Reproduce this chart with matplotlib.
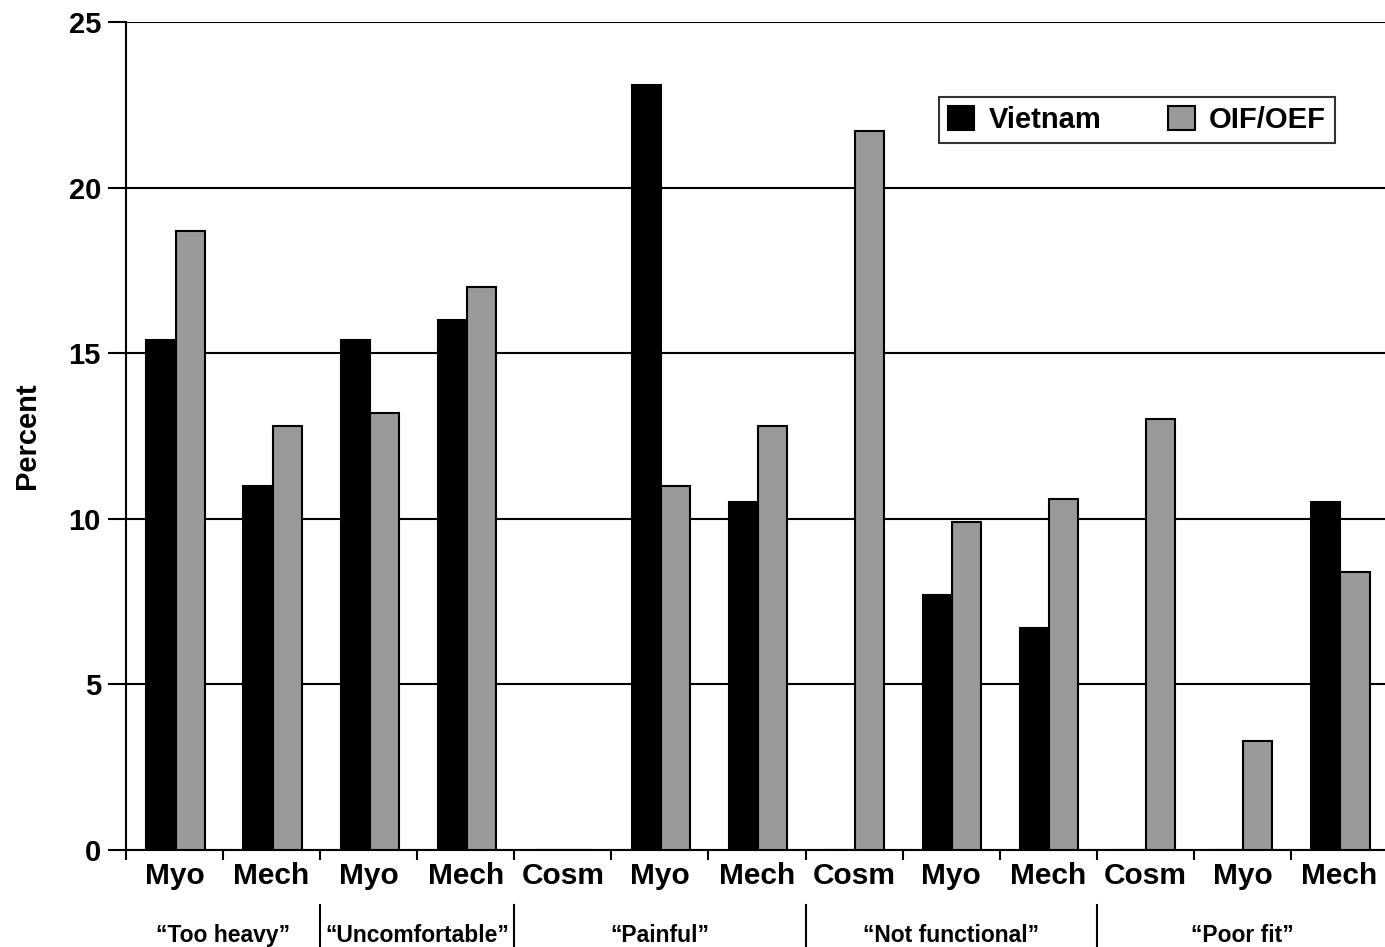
import matplotlib.pyplot as plt
import matplotlib.transforms as mtransforms
import numpy as np

plt.rcParams['font.family'] = ['Liberation Sans', 'DejaVu Sans']
plt.rcParams['font.weight'] = 'bold'

# data
categories = ['Myo', 'Mech', 'Myo', 'Mech', 'Cosm', 'Myo', 'Mech',
              'Cosm', 'Myo', 'Mech', 'Cosm', 'Myo', 'Mech']
vietnam = [15.4, 11.0, 15.4, 16.0, 0, 23.1, 10.5, 0, 7.7, 6.7, 0, 0, 10.5]
oif_oef = [18.7, 12.8, 13.2, 17.0, 0, 11.0, 12.8, 21.7, 9.9, 10.6, 13.0, 3.3, 8.4]
groups = ['\u201cToo heavy\u201d', '\u201cUncomfortable\u201d', '\u201cPainful\u201d',
          '\u201cNot functional\u201d', '\u201cPoor fit\u201d']
group_spans = [(0, 1), (2, 3), (4, 6), (7, 9), (10, 12)]

fig = plt.figure(figsize=(13.85, 9.47), dpi=100)
ax = fig.add_axes([126 / 1385, 1 - 850 / 947, (1388 - 126) / 1385, (850 - 22) / 947])

x = np.arange(len(categories))
w = 0.3
ax.bar(x - w / 2 + 0.01, vietnam, width=w, color='black', edgecolor='black', linewidth=1.5,
       label='Vietnam', zorder=3)
ax.bar(x + w / 2 + 0.01, oif_oef, width=w, color='#999999', edgecolor='black', linewidth=1.5,
       label='OIF/OEF', zorder=3)

ax.set_xlim(-0.5, len(categories) - 0.5)
ax.set_ylim(0, 25)
ax.set_yticks([0, 5, 10, 15, 20, 25])
ax.yaxis.grid(True, color='black', linewidth=1.5)
ax.set_axisbelow(True)

for s in ['top', 'right']:
    ax.spines[s].set_visible(False)
ax.spines['left'].set_linewidth(1.5)
ax.spines['bottom'].set_linewidth(1.5)

ax.set_xticks(x)
ax.set_xticklabels(categories, fontsize=21.5, fontweight='bold')
ax.set_xticks(np.arange(-0.5, len(categories)), minor=True)
ax.tick_params(axis='x', which='major', length=0, pad=9)
ax.tick_params(axis='x', which='minor', length=7, width=1.5, direction='out')
ax.tick_params(axis='y', length=13, width=1.5, direction='out', labelsize=21, pad=5)
for lab in ax.get_yticklabels():
    lab.set_fontweight('bold')

ax.set_ylabel('Percent', fontsize=21, fontweight='bold', labelpad=20)

# group labels under the categories
trans = mtransforms.blended_transform_factory(ax.transData, ax.transAxes)
for name, (a, b) in zip(groups, group_spans):
    ax.text((a + b) / 2, -0.103, name, transform=trans, ha='center', va='center',
            fontsize=16.5, fontweight='bold')
for a, b in group_spans[:-1]:
    ax.plot([b + 0.5, b + 0.5], [-0.067, -0.12], transform=trans, color='black',
            linewidth=1.5, clip_on=False)

leg = ax.legend(loc='upper right', bbox_to_anchor=(0.958, 0.909), ncol=2, fontsize=21,
                frameon=True, fancybox=False, edgecolor='black', columnspacing=2.3,
                handlelength=0.9, handleheight=0.9, handletextpad=0.5, borderpad=0.3,
                borderaxespad=0)
leg.get_frame().set_linewidth(1.5)
for t in leg.get_texts():
    t.set_fontweight('bold')

fig.savefig('out.png', dpi=100)
